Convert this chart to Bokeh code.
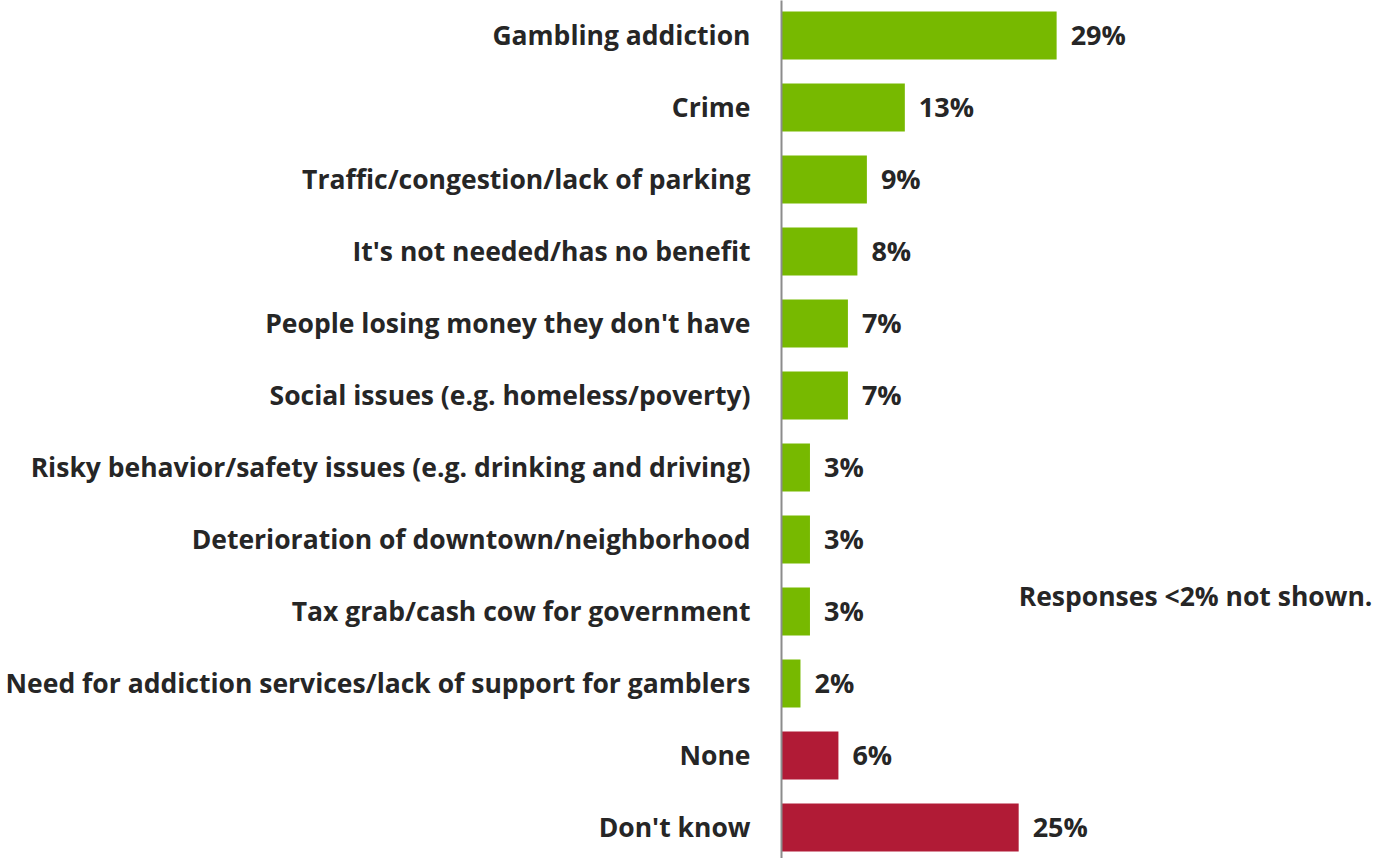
from bokeh.plotting import figure
from bokeh.models import Range1d, FixedTicker, Label, ColumnDataSource
from bokeh.core.properties import value
from bokeh.embed import file_html
from bokeh.resources import INLINE

categories = [
    "Gambling addiction",
    "Crime",
    "Traffic/congestion/lack of parking",
    "It's not needed/has no benefit",
    "People losing money they don't have",
    "Social issues (e.g. homeless/poverty)",
    "Risky behavior/safety issues (e.g. drinking and driving)",
    "Deterioration of downtown/neighborhood",
    "Tax grab/cash cow for government",
    "Need for addiction services/lack of support for gamblers",
    "None",
    "Don't know",
]
values = [29, 13, 9, 8, 7, 7, 3, 3, 3, 2, 6, 25]
groups = ["concern"] * 10 + ["other"] * 2
note_text = "Responses <2% not shown."

GREEN = "#77B900"
RED = "#B11B36"
TEXT = "#262626"
FONT = "Open Sans"

idx = list(range(len(categories)))
colors = [GREEN if g == "concern" else RED for g in groups]
labels = [f"{v}%" for v in values]

src = ColumnDataSource(dict(y=idx, v=values, c=colors, lab=labels))

p = figure(
    frame_width=592, frame_height=858,
    x_range=Range1d(0, 62.4),
    y_range=Range1d(11.431, -0.486),
    output_backend="svg", toolbar_location=None,
    min_border_left=781, min_border_right=0, min_border_top=0, min_border_bottom=0,
)
p.outline_line_color = None
p.xgrid.visible = False
p.ygrid.visible = False
p.xaxis.visible = False

p.hbar(y="y", left=0, right="v", height=0.667, fill_color="c", line_color=None, source=src)
p.text(x="v", y="y", text="lab", x_offset=14, y_offset=-1, text_baseline="middle", text_align="left",
       text_font=value(FONT), text_font_style="bold", text_font_size="27px",
       text_color=TEXT, source=src)

ya = p.yaxis[0]
ya.ticker = FixedTicker(ticks=idx)
ya.major_label_overrides = {i: c for i, c in zip(idx, categories)}
ya.major_tick_line_color = None
ya.minor_tick_line_color = None
ya.axis_line_color = "#8C8C8C"
ya.axis_line_width = 2
ya.major_label_standoff = 25
ya.major_label_text_font = FONT
ya.major_label_text_font_style = "bold"
ya.major_label_text_font_size = "26.5px"
ya.major_label_text_color = TEXT

p.add_layout(Label(x=25.0, y=7.79, text=note_text, text_baseline="middle",
                   text_font=FONT, text_font_style="bold", text_font_size="26.5px",
                   text_color=TEXT))

open("out.html", "w").write(file_html(p, INLINE))
